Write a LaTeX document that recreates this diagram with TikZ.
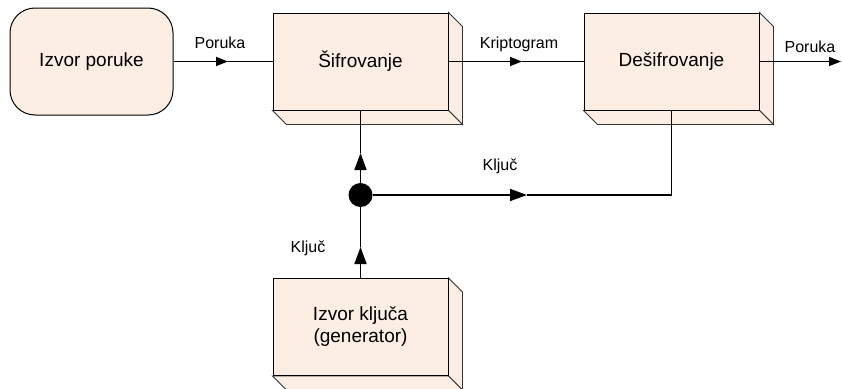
\documentclass[tikz,border=0pt]{standalone}
\usepackage{fontspec}
\setmainfont{Liberation Sans}
\usetikzlibrary{arrows.meta,calc}

\definecolor{boxfill}{HTML}{FDEEE3}
\definecolor{edgegray}{HTML}{333333}

\tikzset{
  blockbox/.style={draw=black, line width=1pt, fill=boxfill,
    minimum width=175pt, minimum height=97pt, inner sep=0pt,
    font=\fontsize{19}{22}\selectfont, align=center},
  extrude/.style={draw=edgegray, line width=0.9pt, fill=boxfill},
  wire/.style={line width=1.6pt},
  smalltip/.style={wire, -{Triangle[length=12pt,width=9pt]}},
  bigtip/.style={wire, -{Triangle[length=17pt,width=12pt]}},
  lbl/.style={font=\fontsize{16}{19}\selectfont, anchor=base, inner sep=0pt}
}

% a block with a 3D extrusion down and to the right
\newcommand{\extrudebox}[1]{%
  \path[extrude] (#1.north east) -- ++(14,14) -- ($(#1.south east)+(14,14)$)
     -- (#1.south east) -- cycle;
  \path[extrude] (#1.south west) -- (#1.south east) -- ++(14,14)
     -- ($(#1.south west)+(14,14)$) -- cycle;
}

\begin{document}
\begin{tikzpicture}[x=1pt, y=-1pt]
  \useasboundingbox (0,0) rectangle (842,388);

  % message source
  \node[blockbox, rounded corners=25pt, minimum width=163pt, minimum height=107pt]
    (src) at (91.5,61.5) {Izvor poruke};

  % encryption, decryption and key source blocks
  \node[blockbox] (enc) at (360.5,61.5) {Šifrovanje};
  \node[blockbox] (dec) at (671.5,61.5) {Dešifrovanje};
  \node[blockbox] (key) at (360.5,327) {Izvor ključa\\(generator)};
  \extrudebox{enc}
  \extrudebox{dec}
  \extrudebox{key}
  \node[blockbox, fill=none, draw=black] at (enc) {};
  \node[blockbox, fill=none, draw=black] at (dec) {};
  \node[blockbox, fill=none, draw=black] at (key) {};

  % junction point on the key line
  \node[circle, fill=black, inner sep=0pt, minimum size=24pt] (jn) at (360.5,195) {};

  % arrow tip positions along the wires
  \coordinate (t1) at (228,61.5);
  \coordinate (t2) at (522,61.5);
  \coordinate (t3) at (841,61.5);
  \coordinate (t4) at (360.5,153);
  \coordinate (t5) at (360.5,247);
  \coordinate (t6) at (527,195);
  \coordinate (bend) at (671.5,195);

  % message path
  \draw[smalltip] (src.east) -- (t1);
  \draw[wire] (t1) -- (enc.west);
  \draw[smalltip] (enc.east) -- (t2);
  \draw[wire] (t2) -- (dec.west);
  \draw[smalltip] (dec.east) -- (t3);

  % key path
  \draw[bigtip] (key.north) -- (t5);
  \draw[wire] (t5) -- (jn);
  \draw[bigtip] (jn) -- (t4);
  \draw[wire] (t4) -- (enc.south);
  \draw[bigtip] (jn) -- (t6);
  \draw[wire] (t6) -- (bend) -- (dec.south);

  % labels
  \node[lbl] (l1) at (220,48) {Poruka};
  \node[lbl] (l2) at (519,48) {Kriptogram};
  \node[lbl] (l3) at (810,52) {Poruka};
  \node[lbl] (l4) at (500,170) {Ključ};
  \node[lbl] (l5) at (308,252) {Ključ};
\end{tikzpicture}
\end{document}
